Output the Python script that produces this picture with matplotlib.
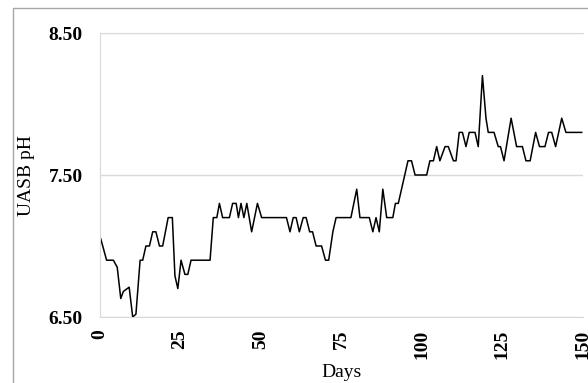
import matplotlib.pyplot as plt
from matplotlib.patches import Rectangle

plt.rcParams['font.family'] = ['Liberation Serif', 'DejaVu Serif']

# UASB reactor pH over the monitoring period
days = [0.4, 2.2, 4.3, 5.5, 6.6, 7.4, 9.2, 10.3, 11.3, 12.6, 13.4, 14.4, 15.5,
        16.5, 17.5, 18.6, 19.6, 21.3, 22.6, 23.4, 24.3, 25.3, 26.5, 27.4, 28.4,
        34.3, 35.3, 36.4, 37.2, 38.2, 40.3, 41.3, 42.4, 43.1, 43.9, 44.8, 45.7,
        47.2, 49.0, 50.3, 58.0, 59.1, 60.1, 61.0, 62.0, 63.2, 64.1, 65.2, 66.1,
        67.2, 68.9, 70.1, 71.1, 72.4, 73.4, 78.0, 79.8, 80.8, 83.7, 84.8, 85.8,
        86.8, 87.9, 89.1, 91.0, 91.8, 92.7, 95.7, 96.8, 97.9, 101.5, 102.5,
        103.6, 104.6, 105.6, 107.2, 108.2, 109.8, 110.6, 111.6, 112.6, 113.7,
        114.7, 116.5, 117.5, 118.8, 119.9, 120.6, 122.4, 123.7, 124.4, 125.5,
        127.7, 129.4, 131.2, 132.3, 133.6, 135.3, 136.5, 138.2, 139.3, 140.3,
        141.5, 143.4, 144.7, 149.6]
ph = [7.05, 6.90, 6.90, 6.85, 6.63, 6.68, 6.71, 6.50, 6.52, 6.90, 6.90, 7.00,
      7.00, 7.10, 7.10, 7.00, 7.00, 7.20, 7.20, 6.79, 6.70, 6.90, 6.80, 6.80,
      6.90, 6.90, 7.20, 7.20, 7.30, 7.20, 7.20, 7.30, 7.30, 7.20, 7.30, 7.20,
      7.30, 7.10, 7.30, 7.20, 7.20, 7.10, 7.20, 7.20, 7.10, 7.20, 7.20, 7.10,
      7.10, 7.00, 7.00, 6.90, 6.90, 7.10, 7.20, 7.20, 7.40, 7.20, 7.20, 7.10,
      7.20, 7.10, 7.40, 7.20, 7.20, 7.30, 7.30, 7.60, 7.60, 7.50, 7.50, 7.60,
      7.60, 7.70, 7.60, 7.70, 7.70, 7.60, 7.60, 7.80, 7.80, 7.70, 7.80, 7.80,
      7.70, 8.20, 7.90, 7.80, 7.80, 7.70, 7.70, 7.60, 7.90, 7.70, 7.70, 7.60,
      7.60, 7.80, 7.70, 7.70, 7.80, 7.80, 7.70, 7.90, 7.80, 7.80]

xticks = [0, 25, 50, 75, 100, 125, 150]
yticks = [6.5, 7.5, 8.5]

W, H = 588, 383
fig = plt.figure(figsize=(W / 100, H / 100), dpi=100)
fig.patches.append(Rectangle((13 / W, -0.1), 1.0, 1.1 - 8 / H,
                             transform=fig.transFigure, fill=False,
                             edgecolor='#a6a6a6', linewidth=1.0))

ax = fig.add_axes([99.5 / W, 1 - 317 / H, (583 - 99.5) / W, (317 - 33) / H])
ax.plot(days, ph, color='black', linewidth=1.1)

ax.set_xlim(0, 150)
ax.set_ylim(6.5, 8.5)
ax.set_xticks(xticks)
ax.set_xticklabels([str(t) for t in xticks], rotation=90,
                   fontweight='bold', fontsize=14)
ax.set_yticks(yticks)
ax.set_yticklabels(['%.2f' % t for t in yticks], fontweight='bold', fontsize=14)
ax.tick_params(length=0)
ax.tick_params(axis='y', pad=12)
ax.tick_params(axis='x', pad=9)

ax.yaxis.grid(True, color='#d9d9d9', linewidth=1.0)
for side in ['left', 'bottom', 'top']:
    ax.spines[side].set_color('#d9d9d9')
ax.spines['right'].set_visible(False)

ax.set_xlabel('Days', fontsize=14, labelpad=4)
ax.set_ylabel('UASB pH', fontsize=14, labelpad=10)

fig.savefig('out.png', dpi=100)
